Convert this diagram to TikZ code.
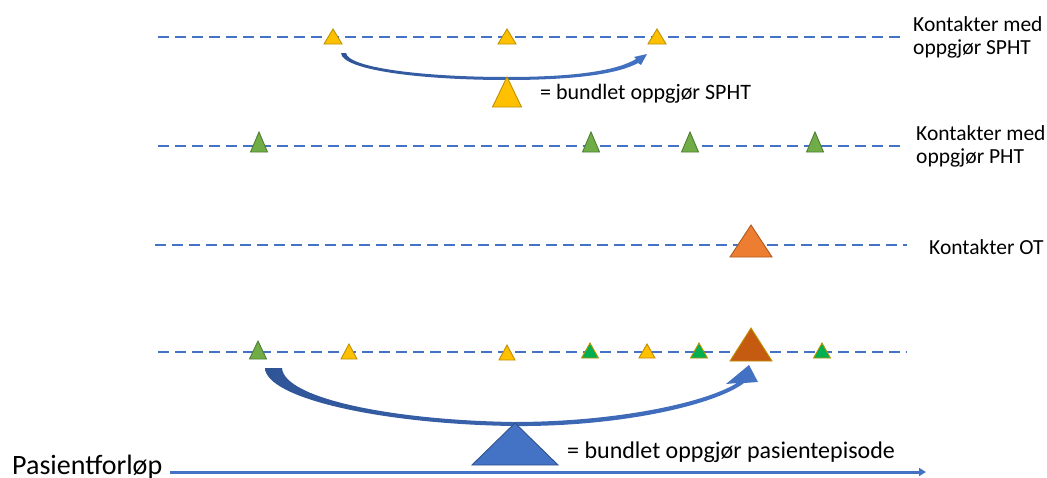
\documentclass[tikz,border=0pt]{standalone}
\usepackage{fontspec}
\setmainfont{Carlito}
\usetikzlibrary{arrows.meta}
\definecolor{lineblue}{HTML}{4472C4}
\definecolor{darkblue}{HTML}{2F528F}
\definecolor{arcdark}{HTML}{2F5597}
\definecolor{yelfill}{HTML}{FFC000}
\definecolor{yeledge}{HTML}{BF9000}
\definecolor{grnfill}{HTML}{70AD47}
\definecolor{grnedge}{HTML}{507E32}
\definecolor{brightgrn}{HTML}{00B050}
\definecolor{orgfill}{HTML}{ED7D31}
\definecolor{orgedge}{HTML}{AE5A21}
\definecolor{brnfill}{HTML}{C55A11}
\newcommand\tri[5]{\filldraw[#5] ({#1-#4},#3) -- (#1,#2) -- ({#1+#4},#3) -- cycle;}
\begin{document}
\begin{tikzpicture}[x=1pt,y=-1pt,
  timeline/.style={draw=lineblue, line width=1.3pt, dash pattern=on 11pt off 6pt},
  lbl/.style={inner sep=0pt, font=\fontsize{21.5}{23.5}\selectfont, align=left},
  ty/.style={fill=yelfill, draw=yeledge, line width=0.9pt},
  tg/.style={fill=grnfill, draw=grnedge, line width=0.9pt},
  tgy/.style={fill=brightgrn, draw=yeledge, line width=0.9pt},
  tor/.style={fill=orgfill, draw=orgedge, line width=0.9pt},
  tbr/.style={fill=brnfill, draw=yeledge, line width=0.9pt},
  tbl/.style={fill=lineblue, draw=darkblue, line width=0.9pt},
  arcshape/.style={left color=arcdark, right color=lineblue, draw=none}
]
\useasboundingbox (0,0) rectangle (1047,477);

% timelines
\coordinate (l1a) at (158,37);  \coordinate (l1b) at (900,37);
\coordinate (l2a) at (158,146); \coordinate (l2b) at (905,146);
\coordinate (l3a) at (155,245); \coordinate (l3b) at (907,245);
\coordinate (l4a) at (158,352); \coordinate (l4b) at (907,352);
\draw[timeline] (l1a) -- (l1b);
\draw[timeline] (l2a) -- (l2b);
\draw[timeline] (l3a) -- (l3b);
\draw[timeline] (l4a) -- (l4b);

% labels
\node[lbl, anchor=north west] (lab1) at (913,16) {Kontakter med\\oppgjør SPHT};
\node[lbl, anchor=north west] (lab2) at (916,125) {Kontakter med\\oppgjør PHT};
\node[lbl, anchor=base west] (lab3) at (929,254) {Kontakter OT};
\node[inner sep=0pt, anchor=base west, font=\fontsize{22}{26}\selectfont] (lab4) at (540,99) {= bundlet oppgjør SPHT};
\node[inner sep=0pt, anchor=base west, font=\fontsize{24}{28}\selectfont] (lab5) at (567,458) {= bundlet oppgjør pasientepisode};
\node[inner sep=0pt, anchor=base west, font=\fontsize{28}{32}\selectfont] (lab6) at (12,474) {Pasientforløp};

% row 1 (SPHT)
\tri{333}{29}{44}{9}{ty}
\tri{507}{29}{44}{9}{ty}
\tri{657}{29}{44}{9}{ty}
% small curved arrow
\path[arcshape] (341,53) .. controls (342,70) and (420,80) .. (507,80)
  .. controls (580,80) and (620,73) .. (638,63)
  -- (641,65) -- (647,54) -- (634,57) -- (636,59)
  .. controls (618,70) and (578,77) .. (507,77)
  .. controls (425,77) and (348,68) .. (346,53) -- cycle;
\tri{507}{77}{107}{14.5}{ty}

% row 2 (PHT)
\tri{259}{132}{152}{8.5}{tg}
\tri{591}{132}{152}{8.5}{tg}
\tri{690}{132}{152}{8.5}{tg}
\tri{815}{132}{152}{8.5}{tg}

% row 3 (OT)
\tri{751}{225}{257}{21}{tor}

% row 4
\tri{258}{341}{359}{8.5}{tg}
\tri{349}{344}{359}{8}{ty}
\tri{507}{345}{360}{8}{ty}
\tri{590}{343}{358}{8.5}{tgy}
\tri{647}{344}{358}{8}{ty}
\tri{699}{343}{358}{8.5}{tgy}
\tri{822}{343}{358}{8.5}{tgy}
\tri{751}{328}{361}{21}{tbr}

% big curved arrow
\path[arcshape] (265,368) .. controls (266,398) and (380,424) .. (513,426)
  .. controls (620,427) and (715,405) .. (744,383)
  -- (758,382) -- (749,365) -- (726,384) -- (737,383)
  .. controls (705,403) and (615,422) .. (513,422)
  .. controls (390,420) and (284,398) .. (282,368) -- cycle;
\tri{515}{423}{465}{43}{tbl}

% patient course arrow
\coordinate (pa) at (170,472);
\coordinate (pb) at (926,472);
\draw[lineblue, line width=3pt, -{Triangle[length=7pt,width=8pt]}] (pa) -- (pb);
\end{tikzpicture}
\end{document}
